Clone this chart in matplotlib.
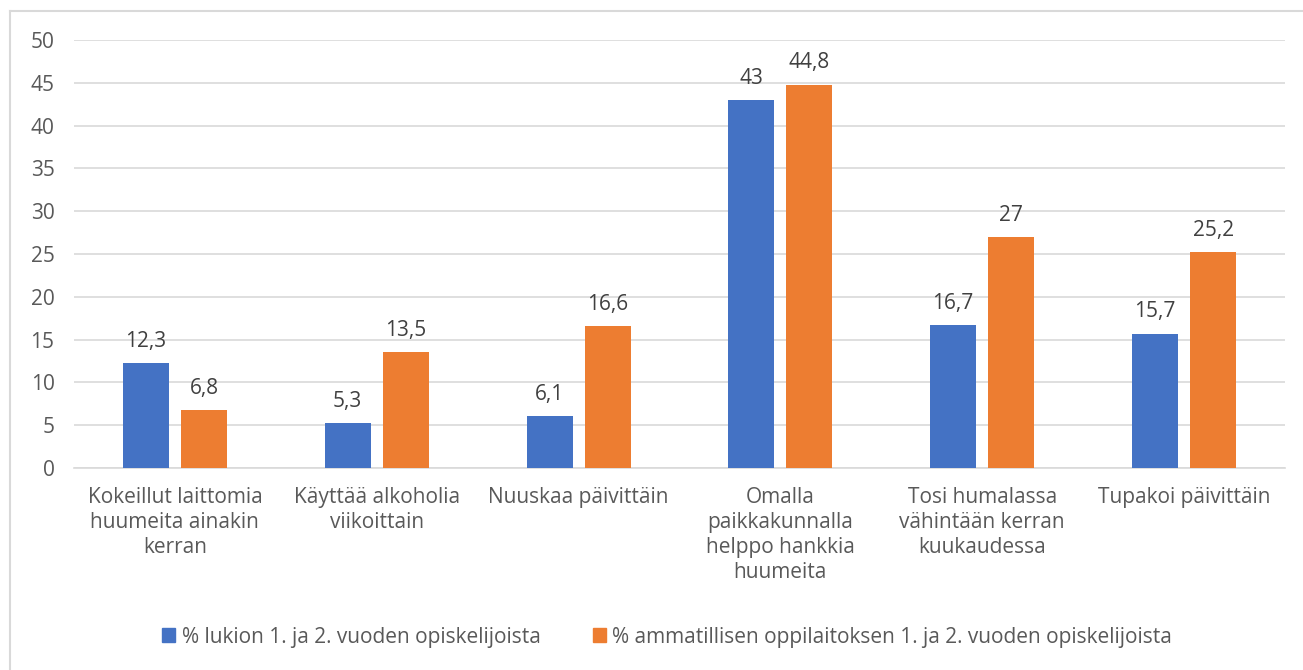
import numpy as np
import matplotlib
matplotlib.use("Agg")
import matplotlib.pyplot as plt
from matplotlib.lines import Line2D
from matplotlib.patches import Patch

categories = [
    "Kokeillut laittomia\nhuumeita ainakin\nkerran",
    "Käyttää alkoholia\nviikoittain",
    "Nuuskaa päivittäin",
    "Omalla\npaikkakunnalla\nhelppo hankkia\nhuumeita",
    "Tosi humalassa\nvähintään kerran\nkuukaudessa",
    "Tupakoi päivittäin",
]
lukio = [12.3, 5.3, 6.1, 43, 16.7, 15.7]
ammatillinen = [6.8, 13.5, 16.6, 44.8, 27, 25.2]
series_names = ["% lukion 1. ja 2. vuoden opiskelijoista",
                "% ammatillisen oppilaitoksen 1. ja 2. vuoden opiskelijoista"]

BLUE = "#4472C4"
ORANGE = "#ED7D31"
TXT = "#595959"
FS = 15

plt.rcParams['font.family'] = ['Open Sans', 'DejaVu Sans']

fig = plt.figure(figsize=(13.03, 6.70), dpi=100)
ax = fig.add_axes([74 / 1303, 1 - 468 / 670, (1285 - 74) / 1303, (468 - 40) / 670])

# outer border (left/top visible in reference)
fig.add_artist(Line2D([10 / 1303, 10 / 1303], [0, 1 - 11 / 670], transform=fig.transFigure, color="#D9D9D9", lw=1.5))
fig.add_artist(Line2D([10 / 1303, 1], [1 - 11 / 670, 1 - 11 / 670], transform=fig.transFigure, color="#D9D9D9", lw=1.5))

x = np.arange(len(categories))
w = 0.228
off = w / 2 + 0.03
b1 = ax.bar(x - off, lukio, w, color=BLUE, zorder=3)
b2 = ax.bar(x + off, ammatillinen, w, color=ORANGE, zorder=3)

def fmt(v):
    return ("%g" % v).replace(".", ",")

for bars, vals in ((b1, lukio), (b2, ammatillinen)):
    for r, v in zip(bars, vals):
        ax.annotate(fmt(v), (r.get_x() + r.get_width() / 2, v), xytext=(0, 8),
                    textcoords="offset points", ha="center", va="bottom",
                    fontsize=FS, color="#404040")

ax.set_xlim(-0.5, len(categories) - 0.5)
ax.set_ylim(0, 50)
ax.set_yticks(range(0, 51, 5))
ax.yaxis.grid(True, color="#D9D9D9", lw=1.2, zorder=0)
ax.set_axisbelow(True)
for s in ("top", "right", "left"):
    ax.spines[s].set_visible(False)
ax.spines["bottom"].set_color("#D9D9D9")
ax.spines["bottom"].set_linewidth(1.2)
ax.tick_params(axis="y", length=0, labelsize=FS, labelcolor=TXT, pad=14)
ax.tick_params(axis="x", length=0, labelsize=FS, labelcolor=TXT, pad=14)
ax.set_xticks(x)
ax.set_xticklabels(categories, linespacing=1.25)

handles = [Patch(color=BLUE), Patch(color=ORANGE)]
fig.legend(handles, series_names, loc="center", bbox_to_anchor=(0.512, 1 - 637 / 670),
           ncol=2, frameon=False, fontsize=FS, labelcolor=TXT,
           handlelength=0.65, handleheight=0.65, handletextpad=0.3, columnspacing=2.5)

fig.savefig("out.png", dpi=100)
